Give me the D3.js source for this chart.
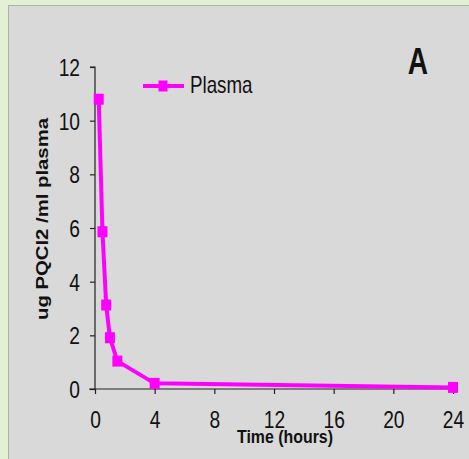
<!DOCTYPE html>
<html>
<head>
<meta charset="utf-8">
<script src="https://cdn.jsdelivr.net/npm/d3@7"></script>
<style>
  html, body { margin: 0; padding: 0; background: #e3f0d5; }
  svg { display: block; }
  text { font-family: "Liberation Sans", Arial, sans-serif; fill: #111; }
</style>
</head>
<body>
<svg id="chart" width="469" height="459"></svg>
<script>
// Plasma concentration over time
const timesHours = [0.25, 0.5, 0.75, 1, 1.5, 4, 24];
const plasmaValues = [10.8, 5.86, 3.13, 1.91, 1.04, 0.21, 0.06];
const xTicks = [0, 4, 8, 12, 16, 20, 24];
const yTicks = [0, 2, 4, 6, 8, 10, 12];
const seriesName = "Plasma";

const W = 469, H = 459;
const svg = d3.select("#chart");

// panel background
svg.append("rect").attr("x", 0).attr("y", 0).attr("width", W).attr("height", H).attr("fill", "#e3f0d5");
svg.append("rect").attr("x", 8.5).attr("y", 5.5).attr("width", W + 10).attr("height", H + 10)
  .attr("fill", "#d9d9d9").attr("stroke", "#a9b5a0").attr("stroke-width", 1);

const x = d3.scaleLinear().domain([0, 24]).range([95, 453]);
const y = d3.scaleLinear().domain([0, 12]).range([389, 67]);

// narrow-looking text: squeeze glyphs horizontally
function squeeze(sel, k) {
  sel.each(function () {
    const w = this.getComputedTextLength();
    d3.select(this).attr("textLength", w * k).attr("lengthAdjust", "spacingAndGlyphs");
  });
}

// axes
const yAxis = svg.append("g").attr("transform", `translate(${x(0)},0)`)
  .call(d3.axisLeft(y).tickValues(yTicks).tickSize(5).tickPadding(0).tickFormat(d3.format("d")));
const xAxis = svg.append("g").attr("transform", `translate(0,${y(0)})`)
  .call(d3.axisBottom(x).tickValues(xTicks).tickSize(5).tickPadding(0).tickFormat(d3.format("d")));

[yAxis, xAxis].forEach(g => {
  g.select(".domain").attr("stroke", "#222").attr("stroke-width", 1.2);
  g.selectAll(".tick line").attr("stroke", "#222").attr("stroke-width", 1.2);
  g.selectAll("text").attr("font-size", 24).attr("fill", "#111")
    .style("font-family", "'Liberation Sans', Arial, sans-serif");
});
// x axis domain extends slightly left of origin
xAxis.select(".domain").attr("d", `M${x(0) - 6},0H${x(24)}`);
yAxis.select(".domain").attr("d", `M-5,${y(12)}H0V${y(0)}`);

yAxis.selectAll("text").attr("x", -15).attr("dy", "0.36em");
xAxis.selectAll("text").attr("y", 0).attr("dy", 0).attr("transform", "translate(0,39)");
squeeze(yAxis.selectAll("text"), 0.8);
squeeze(xAxis.selectAll("text"), 0.8);

// series line + markers
const pts = timesHours.map((t, i) => [t, plasmaValues[i]]);
const magenta = "#ff00ff";
svg.append("path").datum(pts)
  .attr("fill", "none").attr("stroke", magenta).attr("stroke-width", 4).attr("stroke-linejoin", "round")
  .attr("d", d3.line().x(d => x(d[0])).y(d => y(d[1])));
svg.append("g").selectAll("rect").data(pts).join("rect")
  .attr("x", d => x(d[0]) - 5).attr("y", d => y(d[1]) - 5.5)
  .attr("width", 10).attr("height", 11).attr("fill", magenta);

// legend
const lg = svg.append("g");
lg.append("line").attr("x1", 143).attr("x2", 184).attr("y1", 86).attr("y2", 86)
  .attr("stroke", magenta).attr("stroke-width", 4);
lg.append("rect").attr("x", 158.5).attr("y", 80.5).attr("width", 9).attr("height", 11).attr("fill", magenta);
const lgText = lg.append("text").attr("x", 190).attr("y", 93).attr("font-size", 24).text(seriesName);
squeeze(lgText, 0.78);

// panel letter
const letter = svg.append("text").attr("x", 418).attr("y", 74).attr("text-anchor", "middle")
  .attr("font-size", 36).attr("font-weight", "bold").text("A");
squeeze(letter, 0.78);

// axis titles
const yTitle = svg.append("text").attr("transform", "translate(48,219) rotate(-90)")
  .attr("text-anchor", "middle").attr("font-size", 16).attr("font-weight", "bold")
  .text("ug PQCl2 /ml plasma");
yTitle.attr("textLength", 202).attr("lengthAdjust", "spacingAndGlyphs");

const xTitle = svg.append("text").attr("x", 285).attr("y", 443).attr("text-anchor", "middle")
  .attr("font-size", 18).attr("font-weight", "bold").text("Time (hours)");
xTitle.attr("textLength", 96).attr("lengthAdjust", "spacingAndGlyphs");
</script>
</body>
</html>
